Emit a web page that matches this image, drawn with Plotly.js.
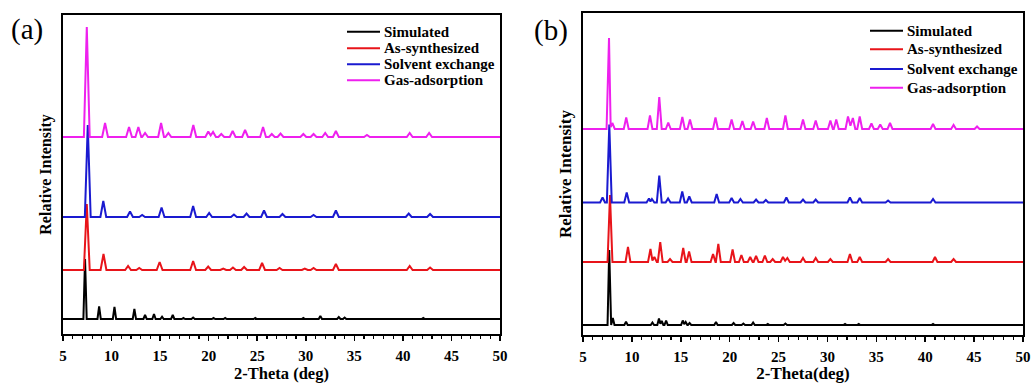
<!DOCTYPE html>
<html>
<head>
<meta charset="utf-8">
<script src="https://cdn.plot.ly/plotly-3.0.1.min.js"></script>
<style>html,body{margin:0;padding:0;background:#fff;}#chart{width:1033px;height:383px;}</style>
</head>
<body>
<div id="chart"></div>
<script>
// ---------- DATA ----------
const seriesNames = ['Simulated', 'As-synthesized', 'Solvent exchange', 'Gas-adsorption'];
const xRange = [5, 50];
const xTickVals = [5, 10, 15, 20, 25, 30, 35, 40, 45, 50];

// Panel (a): peak positions (2θ, deg) and intensities (a.u.)
const a_sim_pos = [7.27, 8.72, 10.3, 12.35, 13.45, 14.37, 15.2, 16.3, 17.4, 18.4, 20.5, 21.7, 24.8, 29.75, 31.5, 33.4, 34.0, 42.1];
const a_sim_int = [60, 12.5, 12, 10, 4, 5, 2.3, 4, 1, 1.5, 1, 1, 1, 1, 3, 2, 1.5, 1];
const a_syn_pos = [7.45, 9.17, 11.7, 12.85, 14.95, 18.4, 19.95, 21.5, 22.5, 23.65, 25.5, 27.3, 29.9, 30.8, 33.1, 40.7, 42.8];
const a_syn_int = [66, 16, 4, 2, 8, 9, 3.5, 1.5, 2.5, 3, 7, 2, 1.5, 2, 6, 4, 2.5];
const a_sol_pos = [7.55, 9.15, 11.9, 13.15, 15.15, 18.4, 20.05, 22.6, 23.9, 25.7, 27.6, 30.8, 33.1, 40.6, 42.8];
const a_sol_int = [92, 16, 5.5, 2, 9.5, 11, 4, 2.5, 3.5, 6.5, 3, 2, 6.5, 3.5, 3];
const a_gas_pos = [7.45, 9.33, 11.8, 12.76, 13.45, 15.1, 15.85, 18.42, 19.96, 20.45, 21.3, 22.47, 23.75, 25.6, 26.5, 27.4, 29.75, 30.8, 32.0, 33.1, 36.3, 40.7, 42.7];
const a_gas_int = [110, 14, 10, 10, 4, 14, 4, 12, 5.5, 5, 3, 6, 7, 10, 3, 3.5, 3, 3, 4, 6, 2, 4, 4];

// Panel (b)
const b_sim_pos = [7.68, 8.05, 9.4, 12.1, 12.77, 13.05, 13.5, 15.2, 15.5, 15.9, 18.6, 20.4, 21.4, 22.4, 23.9, 25.7, 31.8, 33.2, 40.8];
const b_sim_int = [75, 7, 3.3, 2.5, 6.5, 4, 4.5, 4.5, 3, 2, 3, 2, 1.5, 2.5, 1, 1.5, 1, 1, 1];
const b_syn_pos = [7.76, 9.6, 11.9, 12.3, 12.9, 13.9, 15.25, 15.85, 18.3, 18.84, 20.3, 21.2, 22.1, 22.7, 23.6, 24.4, 25.45, 25.9, 27.5, 28.8, 30.3, 32.3, 33.3, 36.2, 41.0, 42.9];
const b_syn_int = [67, 15, 13, 5, 20, 3, 14, 10.5, 8, 18, 12.5, 7, 5, 6, 6.5, 3, 5, 4, 4, 4, 3, 8, 5, 3, 5, 3];
const b_sol_pos = [7.0, 7.69, 9.47, 11.75, 12.05, 12.8, 13.7, 15.15, 15.87, 18.67, 20.2, 21.1, 22.7, 23.7, 25.8, 27.5, 28.8, 32.3, 33.3, 36.2, 40.8];
const b_sol_int = [5, 78, 10, 4, 3.5, 27, 4, 11, 6, 8.5, 4.5, 3.5, 3, 2.5, 5, 3, 3, 5, 4.5, 2, 3.5];
const b_gas_pos = [7.66, 8.0, 9.42, 11.85, 12.8, 13.72, 15.16, 15.94, 18.55, 20.2, 21.3, 22.4, 23.8, 25.7, 27.5, 28.8, 30.3, 30.9, 32.1, 32.6, 33.3, 34.5, 35.4, 36.4, 40.8, 42.9, 45.3];
const b_gas_int = [91, 6, 11.5, 13.5, 32, 6.5, 12, 9.5, 11.5, 9.5, 8, 7.5, 11, 13.5, 9.5, 8.5, 8.5, 9.5, 12.5, 11, 12.5, 5.5, 4.5, 6, 5, 4, 2.5];

// ---------- STYLE / LAYOUT ----------
const colors = ['#000000', '#e8141a', '#1a1ad0', '#ee20ee'];
const offsetsA = [15, 64, 117, 197];
const offsetsB = [10, 73, 132.5, 206];
const halfWidthA = [0.17, 0.3, 0.3, 0.3];
const halfWidthB = [0.17, 0.25, 0.25, 0.25];
const FONT = 'Liberation Serif';
const W = 1033, H = 383;

function buildProfile(pos, inten, hw) {
  const x = [xRange[0]], y = [0];
  for (let i = 0; i < pos.length; i++) {
    const left = pos[i] - hw, right = pos[i] + hw;
    if (left > x[x.length - 1]) { x.push(left); y.push(0); }
    x.push(pos[i]); y.push(inten[i]);
    const nextLeft = i + 1 < pos.length ? pos[i + 1] - hw : Infinity;
    if (right < nextLeft) { x.push(right); y.push(0); }
    else { x.push((pos[i] + pos[i + 1]) / 2); y.push(0.3 * Math.min(inten[i], inten[i + 1])); }
  }
  x.push(xRange[1]); y.push(0);
  return {x, y};
}

const panelA = [[a_sim_pos, a_sim_int], [a_syn_pos, a_syn_int], [a_sol_pos, a_sol_int], [a_gas_pos, a_gas_int]];
const panelB = [[b_sim_pos, b_sim_int], [b_syn_pos, b_syn_int], [b_sol_pos, b_sol_int], [b_gas_pos, b_gas_int]];

const traces = [];
panelA.forEach((s, i) => {
  const p = buildProfile(s[0], s[1], halfWidthA[i]);
  traces.push({type: 'scatter', mode: 'lines', name: seriesNames[i], x: p.x,
    y: p.y.map(v => v + offsetsA[i]), xaxis: 'x', yaxis: 'y', showlegend: false,
    line: {color: colors[i], width: 2}, hoverinfo: 'skip'});
});
panelB.forEach((s, i) => {
  const p = buildProfile(s[0], s[1], halfWidthB[i]);
  traces.push({type: 'scatter', mode: 'lines', name: seriesNames[i], x: p.x,
    y: p.y.map(v => v + offsetsB[i]), xaxis: 'x2', yaxis: 'y2', showlegend: false,
    line: {color: colors[i], width: 2}, hoverinfo: 'skip'});
});

function xaxisDef(domain, title, fs, tfs) {
  return {
    domain: domain, range: xRange, tickmode: 'array', tickvals: xTickVals,
    ticktext: xTickVals.map(v => '<b>' + v + '</b>'),
    showline: true, linecolor: '#000', linewidth: 2, mirror: true,
    ticks: 'outside', ticklen: 5, tickwidth: 1.5, tickcolor: '#000',
    minor: {dtick: 1, ticks: 'outside', ticklen: 3, tickwidth: 1.2, tickcolor: '#000'},
    tickfont: {family: FONT, size: fs, color: '#000'},
    ticklabelstandoff: 2,
    showgrid: false, zeroline: false, fixedrange: true,
    title: {text: title, font: {family: FONT, size: tfs, color: '#000', weight: 'bold'}, standoff: 7}
  };
}
function yaxisDef(domain, range, anchor, fs) {
  return {
    domain: domain, range: range, anchor: anchor,
    showline: true, linecolor: '#000', linewidth: 2, mirror: true,
    ticks: '', showticklabels: false, showgrid: false, zeroline: false, fixedrange: true,
    title: {text: 'Relative Intensity', font: {family: FONT, size: fs, color: '#000', weight: 'bold'}, standoff: 5}
  };
}

const xa = xaxisDef([63 / W, 500 / W], '2-Theta (deg)', 15, 16.5);
xa.anchor = 'y';
const xb = xaxisDef([583 / W, 1023 / W], '2-Theta(deg)', 15, 17);
xb.anchor = 'y2';
const ya = yaxisDef([(H - 334) / H, (H - 15) / H], [0, 319], 'x', 16);
const yb = yaxisDef([(H - 335) / H, (H - 13) / H], [0, 322], 'x2', 17);

// Manual legends (paper coordinates)
const legendA = {lineX: [347, 380], textX: 382, rows: [31.7, 48.3, 64.3, 80.3]};
const legendB = {lineX: [870, 903], textX: 905, rows: [30.7, 49.3, 69, 87.7]};
const shapes = [], annotations = [];
[legendA, legendB].forEach(lg => {
  seriesNames.forEach((nm, i) => {
    const yy = 1 - lg.rows[i] / H;
    shapes.push({type: 'line', xref: 'paper', yref: 'paper', x0: lg.lineX[0] / W, x1: lg.lineX[1] / W,
      y0: yy, y1: yy, line: {color: colors[i], width: 2}});
    annotations.push({xref: 'paper', yref: 'paper', x: lg.textX / W, y: yy, xanchor: 'left', yanchor: 'middle',
      text: nm, showarrow: false, font: {family: FONT, size: 15, color: '#000', weight: 'bold'}});
  });
});
annotations.push({xref: 'paper', yref: 'paper', x: 27 / W, y: 1 - 30 / H, xanchor: 'center', yanchor: 'middle',
  text: '(a)', showarrow: false, font: {family: FONT, size: 29, color: '#000'}});
annotations.push({xref: 'paper', yref: 'paper', x: 551 / W, y: 1 - 31 / H, xanchor: 'center', yanchor: 'middle',
  text: '(b)', showarrow: false, font: {family: FONT, size: 29, color: '#000'}});

const layout = {
  width: W, height: H, margin: {l: 0, r: 0, t: 0, b: 0},
  font: {family: FONT, color: '#000'},
  paper_bgcolor: '#fff', plot_bgcolor: '#fff', showlegend: false,
  xaxis: xa, yaxis: ya, xaxis2: xb, yaxis2: yb,
  shapes: shapes, annotations: annotations
};

Plotly.newPlot('chart', traces, layout, {staticPlot: true, displayModeBar: false});
</script>
</body>
</html>
